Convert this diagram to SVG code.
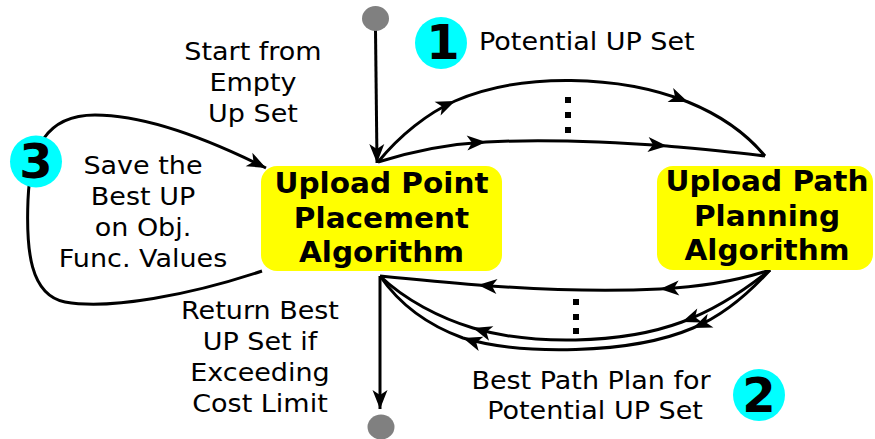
<svg xmlns="http://www.w3.org/2000/svg" width="875" height="439" viewBox="0 0 875 439">
  <style>
    .node { fill: #ffff00; stroke: none; }
    .term { fill: #808080; stroke: none; }
    .badge { fill: #00ffff; stroke: none; }
    .wire { fill: none; stroke: #000; stroke-width: 3; }
    .lbl { font-family: "DejaVu Sans", "Liberation Sans", sans-serif; font-size: 25px; fill: #000; text-anchor: middle; }
    .ttl { font-family: "DejaVu Sans", "Liberation Sans", sans-serif; font-size: 27.5px; font-weight: bold; fill: #000; text-anchor: middle; }
    .num { font-family: "DejaVu Sans", "Liberation Sans", sans-serif; font-size: 48px; font-weight: bold; fill: #000; text-anchor: middle; }
  </style>
  <defs>
    <marker id="arrow" viewBox="-20 -9 22 18" refX="0" refY="0" markerWidth="22" markerHeight="18" markerUnits="userSpaceOnUse" orient="auto" overflow="visible">
      <path d="M0,0 L-19,-7.5 L-14,0 L-19,7.5 Z" fill="#000"/>
    </marker>
  </defs>

  <!-- connectors -->
  <g id="connectors">
    <!-- start terminal into placement -->
    <path class="wire" d="M375.5,30 L377,163" marker-end="url(#arrow)"/>
    <!-- placement to path planning (candidate sets) -->
    <path class="wire" d="M378,162 C400,135 428,113 455,101 C522,72 620,75 688,102 C720,115 745,132 765,156" marker-mid="url(#arrow)"/>
    <path class="wire" d="M378,162 C410,152 448,144 486,142 C545,139 612,142 667,146 C700,149 735,152 765,156" marker-mid="url(#arrow)"/>
    <!-- path planning back to placement (best plans) -->
    <path class="wire" d="M770,270 C740,280 700,287 660,289 C600,292 530,289 478,285 C440,282 410,279 380,276" marker-mid="url(#arrow)"/>
    <path class="wire" d="M770,270 C745,290 715,310 682,322 C620,345 530,345 473,328 C440,318 405,300 380,276" marker-mid="url(#arrow)"/>
    <path class="wire" d="M770,270 C750,292 725,315 693,328 C630,355 520,355 463,338 C430,326 400,305 380,276" marker-mid="url(#arrow)"/>
    <!-- placement to end terminal -->
    <path class="wire" d="M380,276 L380,409" marker-end="url(#arrow)"/>
    <!-- save-best loop -->
    <path class="wire" d="M262,271 C190,295 110,310 65,302 C30,295 26,250 28,200 C30,150 45,115 95,115 C150,115 220,145 266,168" marker-end="url(#arrow)"/>
    <!-- ellipsis dots -->
    <g fill="#000">
      <rect x="565" y="97" width="6" height="6"/>
      <rect x="565" y="112" width="6" height="6"/>
      <rect x="565" y="127" width="6" height="6"/>
      <rect x="573" y="299" width="6" height="6"/>
      <rect x="573" y="314" width="6" height="6"/>
      <rect x="573" y="328" width="6" height="6"/>
    </g>
  </g>

  <!-- terminals -->
  <g id="start">
    <ellipse class="term" cx="375.5" cy="18.5" rx="13.5" ry="12.5"/>
  </g>
  <g id="end">
    <ellipse class="term" cx="381" cy="427" rx="13.5" ry="12.5"/>
  </g>

  <!-- Upload Point Placement Algorithm -->
  <g id="placement">
    <rect class="node" x="261" y="166" width="241" height="105" rx="16"/>
    <g transform="translate(381.5,0) scale(1.075,1)">
      <text class="ttl" x="0" y="193">Upload Point</text>
      <text class="ttl" x="0" y="228">Placement</text>
      <text class="ttl" x="0" y="262">Algorithm</text>
    </g>
  </g>

  <!-- Upload Path Planning Algorithm -->
  <g id="planning">
    <rect class="node" x="657" y="166" width="216" height="104" rx="16"/>
    <g transform="translate(767,0) scale(1.075,1)">
      <text class="ttl" x="0" y="191">Upload Path</text>
      <text class="ttl" x="0" y="226">Planning</text>
      <text class="ttl" x="0" y="260">Algorithm</text>
    </g>
  </g>

  <!-- step badges -->
  <g id="badge-1">
    <circle class="badge" cx="441" cy="43" r="26"/>
    <text class="num" x="443" y="59">1</text>
  </g>
  <g id="badge-2">
    <circle class="badge" cx="759" cy="395" r="26"/>
    <text class="num" x="759" y="412">2</text>
  </g>
  <g id="badge-3">
    <circle class="badge" cx="36" cy="161.5" r="26"/>
    <text class="num" x="36" y="178">3</text>
  </g>

  <!-- edge labels -->
  <g id="label-potential">
    <g transform="translate(479,0) scale(1.08,1)">
      <text class="lbl" x="0" y="50" style="text-anchor:start">Potential UP Set</text>
    </g>
  </g>
  <g id="label-start">
    <g transform="translate(253,0) scale(1.08,1)">
      <text class="lbl" x="0" y="60">Start from</text>
      <text class="lbl" x="0" y="91">Empty</text>
      <text class="lbl" x="0" y="122">Up Set</text>
    </g>
  </g>
  <g id="label-save">
    <g transform="translate(143,0) scale(1.08,1)">
      <text class="lbl" x="0" y="174">Save the</text>
      <text class="lbl" x="0" y="205">Best UP</text>
      <text class="lbl" x="0" y="236">on Obj.</text>
      <text class="lbl" x="0" y="267">Func. Values</text>
    </g>
  </g>
  <g id="label-return">
    <g transform="translate(260,0) scale(1.08,1)">
      <text class="lbl" x="0" y="319">Return Best</text>
      <text class="lbl" x="0" y="350">UP Set if</text>
      <text class="lbl" x="0" y="381">Exceeding</text>
      <text class="lbl" x="0" y="412">Cost Limit</text>
    </g>
  </g>
  <g id="label-best-path">
    <g transform="translate(591,0) scale(1.08,1)">
      <text class="lbl" x="0" y="389">Best Path Plan for</text>
    </g>
    <g transform="translate(595,0) scale(1.08,1)">
      <text class="lbl" x="0" y="419">Potential UP Set</text>
    </g>
  </g>
</svg>
